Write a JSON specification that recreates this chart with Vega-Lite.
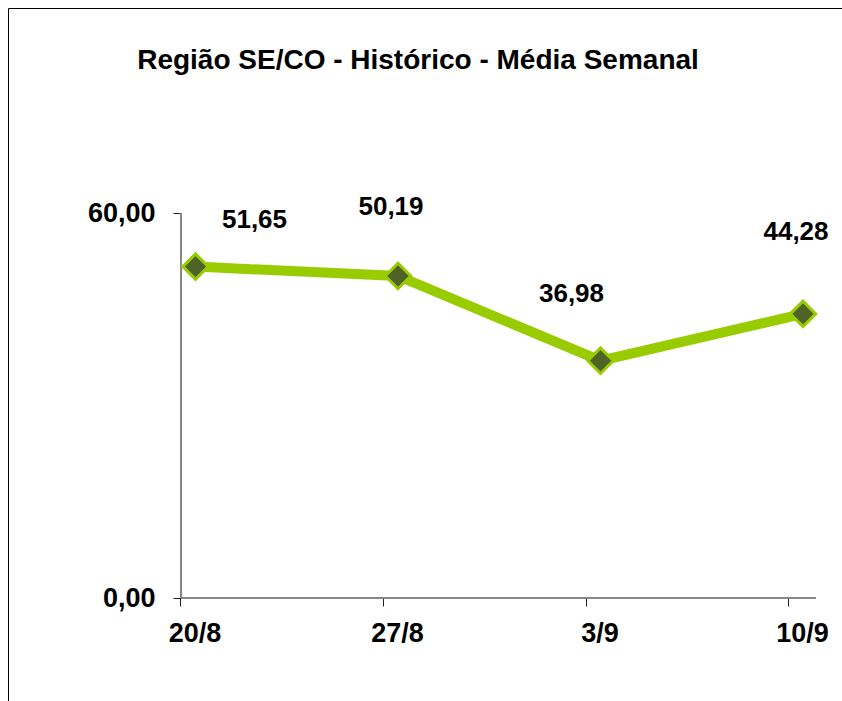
{
  "$schema": "https://vega.github.io/schema/vega-lite/v6.json",
  "autosize": {"type": "none"},
  "padding": {"left": 8, "top": 8, "right": 0, "bottom": 0},
  "width": 834,
  "height": 693,
  "background": "white",
  "title": {
    "text": "Região SE/CO - Histórico - Média Semanal",
    "font": "Liberation Sans",
    "fontSize": 28,
    "fontWeight": "bold",
    "color": "#000000",
    "anchor": "middle",
    "frame": "group",
    "baseline": "alphabetic",
    "offset": -89,
    "dx": -7
  },
  "config": {
    "locale": {"number": {"decimal": ",", "thousands": ".", "grouping": [3], "currency": ["R$", ""]}},
    "view": {"stroke": "#000000", "strokeWidth": 1},
    "axis": {
      "domain": false,
      "grid": false,
      "tickColor": "#222222",
      "tickSize": 8,
      "tickWidth": 1,
      "labelFont": "Liberation Sans",
      "labelFontSize": 27,
      "labelFontWeight": "bold",
      "labelColor": "#000000",
      "title": null
    }
  },
  "data": {
    "values": [
      {"semana": "2008-08-20T00:00:00", "valor": 51.65},
      {"semana": "2008-08-27T00:00:00", "valor": 50.19},
      {"semana": "2008-09-03T00:00:00", "valor": 36.98},
      {"semana": "2008-09-10T00:00:00", "valor": 44.28}
    ]
  },
  "encoding": {
    "x": {
      "field": "semana",
      "type": "temporal",
      "scale": {
        "domain": [
          {"year": 2008, "month": 8, "date": 13, "hours": 12, "minutes": 27},
          {"year": 2008, "month": 9, "date": 11, "hours": 8, "minutes": 21}
        ],
        "nice": false
      },
      "axis": {
        "orient": "bottom",
        "offset": -103,
        "values": [
          {"year": 2008, "month": 8, "date": 20},
          {"year": 2008, "month": 8, "date": 27},
          {"year": 2008, "month": 9, "date": 3},
          {"year": 2008, "month": 9, "date": 10}
        ],
        "format": "%-d/%-m",
        "tickOffset": -15,
        "labelOffset": 14,
        "labelPadding": 14,
        "labelFlush": false,
        "labelOverlap": false
      }
    },
    "y": {
      "field": "valor",
      "type": "quantitative",
      "scale": {"domain": [-16.05, 91.95], "nice": false, "zero": false},
      "axis": {
        "orient": "left",
        "offset": -173,
        "values": [0, 60],
        "format": ".2f",
        "labelPadding": 18,
        "labelFlush": false,
        "labelOverlap": false
      }
    }
  },
  "layer": [
    {
      "mark": {"type": "rule", "color": "#808080", "strokeWidth": 1},
      "encoding": {
        "x": {"datum": {"year": 2008, "month": 8, "date": 19, "hours": 12}, "type": "temporal"},
        "y": {"datum": 0, "type": "quantitative"},
        "y2": {"datum": 60}
      }
    },
    {
      "mark": {"type": "rule", "color": "#808080", "strokeWidth": 1},
      "encoding": {
        "x": {"datum": {"year": 2008, "month": 8, "date": 19, "hours": 12}, "type": "temporal"},
        "x2": {"datum": {"year": 2008, "month": 9, "date": 10, "hours": 10, "minutes": 47}},
        "y": {"datum": 0, "type": "quantitative"}
      }
    },
    {
      "mark": {"type": "line", "color": "#99CC00", "strokeWidth": 10, "strokeJoin": "miter"}
    },
    {
      "mark": {"type": "point", "shape": "diamond", "filled": true, "fill": "#4F6228", "stroke": "#99CC00", "strokeWidth": 3, "size": 650, "opacity": 1}
    },
    {
      "transform": [{"filter": {"field": "valor", "equal": 51.65}}],
      "mark": {"type": "text", "font": "Liberation Sans", "fontSize": 26, "fontWeight": "bold", "color": "#000000", "align": "center", "baseline": "middle", "dx": 59, "dy": -47},
      "encoding": {"text": {"field": "valor", "type": "quantitative", "format": ".2f"}}
    },
    {
      "transform": [{"filter": {"field": "valor", "equal": 50.19}}],
      "mark": {"type": "text", "font": "Liberation Sans", "fontSize": 26, "fontWeight": "bold", "color": "#000000", "align": "center", "baseline": "middle", "dx": -7, "dy": -69},
      "encoding": {"text": {"field": "valor", "type": "quantitative", "format": ".2f"}}
    },
    {
      "transform": [{"filter": {"field": "valor", "equal": 36.98}}],
      "mark": {"type": "text", "font": "Liberation Sans", "fontSize": 26, "fontWeight": "bold", "color": "#000000", "align": "center", "baseline": "middle", "dx": -29, "dy": -67},
      "encoding": {"text": {"field": "valor", "type": "quantitative", "format": ".2f"}}
    },
    {
      "transform": [{"filter": {"field": "valor", "equal": 44.28}}],
      "mark": {"type": "text", "font": "Liberation Sans", "fontSize": 26, "fontWeight": "bold", "color": "#000000", "align": "center", "baseline": "middle", "dx": -7, "dy": -82},
      "encoding": {"text": {"field": "valor", "type": "quantitative", "format": ".2f"}}
    }
  ]
}
